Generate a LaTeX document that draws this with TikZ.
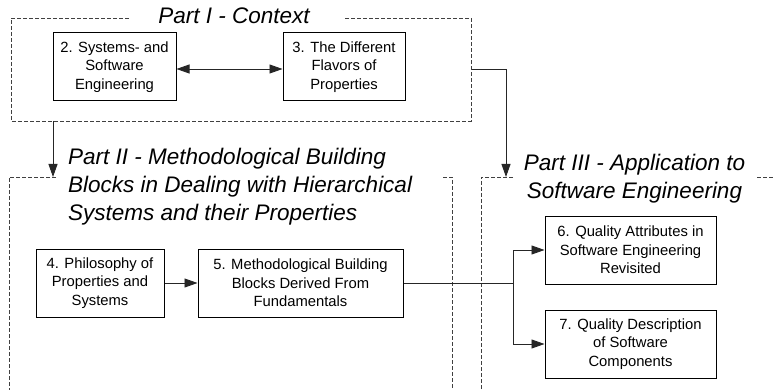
\documentclass[tikz,border=0pt]{standalone}
\usepackage{fontspec}
\setmainfont{Liberation Sans}
\usetikzlibrary{arrows.meta}

\tikzset{
  chapter/.style={draw=black, line width=1pt, fill=white, align=center,
    inner sep=0pt, font=\fontsize{14.8}{18.5}\selectfont},
  frameline/.style={draw=black!75, line width=0.8pt, dash pattern=on 4pt off 2pt},
  parttitle/.style={inner sep=0pt, font=\fontsize{22.5}{28}\selectfont\itshape},
  link/.style={draw=black!85, line width=0.9pt},
  head/.tip={Triangle[length=13pt,width=9pt]},
  tip/.style={-head},
}

\begin{document}
\begin{tikzpicture}[x=1pt, y=-1pt]
\useasboundingbox (0,0) rectangle (773,390);

% Part I frame (top edge interrupted by the title)
\draw[frameline] (129,18) -- (11,18) -- (11,121) -- (471,121) -- (471,18) -- (344,18);
\node[parttitle] (t1) at (234,16) {Part I - Context};

% Part II frame (open at the bottom)
\draw[frameline] (56,177) -- (9,177) -- (9,390);
\draw[frameline] (443,177) -- (452,177) -- (452,390);
\node[parttitle, anchor=west, align=left] (t2) at (68,187)
  {Part II - Methodological Building\\Blocks in Dealing with Hierarchical\\Systems and their Properties};

% Part III frame (open at the right and the bottom)
\draw[frameline] (513,177) -- (481,177) -- (481,390);
\draw[frameline] (757,177) -- (773,177);
\node[parttitle, align=center] (t3) at (634.5,178.5)
  {Part III - Application to\\Software Engineering};

% Chapters
\node[chapter, minimum width=123pt, minimum height=68pt] (c2) at (114.5,67)
  {2. Systems- and\\Software\\Engineering};
\node[chapter, minimum width=122pt, minimum height=68pt] (c3) at (344,67)
  {3. The Different\\Flavors of\\Properties};
\node[chapter, minimum width=128pt, minimum height=68pt] (c4) at (100,283)
  {4. Philosophy of\\Properties and\\Systems};
\node[chapter, minimum width=205pt, minimum height=68pt] (c5) at (300.5,283)
  {5. Methodological Building\\Blocks Derived From\\Fundamentals};
\node[chapter, minimum width=171pt, minimum height=68pt] (c6) at (630.5,250)
  {6. Quality Attributes in\\Software Engineering\\Revisited};
\node[chapter, minimum width=171pt, minimum height=68pt] (c7) at (630.5,344)
  {7. Quality Description\\of Software\\Components};

% Frame connection points
\coordinate (p1out) at (53,121);
\coordinate (p2in) at (53,177);
\coordinate (p1side) at (472,69);
\coordinate (p3in) at (506,177);
\coordinate (fork) at (513,283);

% Connectors
\draw[link, head-head] (c2.east |- 0,69) -- (c3.west |- 0,69);
\draw[link, tip] (p1out) -- (p2in);
\draw[link, tip] (p1side) -| (p3in);
\draw[link, tip] (c4) -- (c5);
\draw[link] (c5.east) -- (fork);
\draw[link, tip] (fork) |- (c6.west);
\draw[link, tip] (fork) |- (c7.west);
\end{tikzpicture}
\end{document}
